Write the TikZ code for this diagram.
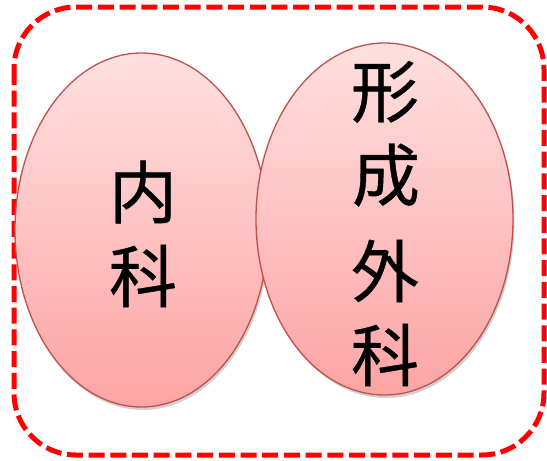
\documentclass[tikz,border=0pt]{standalone}
\usepackage{fontspec}
\newfontfamily\cjk[FakeBold=0.6]{Noto Sans CJK JP}
\usetikzlibrary{positioning,shapes.geometric,shadows}
\definecolor{lobeline}{RGB}{192,80,77}
\definecolor{lobetop}{RGB}{255,224,224}
\definecolor{lobebottom}{RGB}{253,164,164}

\begin{document}
\begin{tikzpicture}
                [x=1pt,y=-1pt,
                lobe/.style={ellipse,draw=lobeline,line width=1.3pt,inner sep=0pt,
                    top color=lobetop,bottom color=lobebottom,
                    drop shadow={shadow xshift=1.5pt,shadow yshift=-3pt,opacity=.18,fill=black}},
                kanji/.style={inner sep=0pt,font=\cjk\fontsize{68}{80}\selectfont},
                frame/.style={draw=red,line width=5pt,dash pattern=on 16pt off 5.7pt,rounded corners=62pt}]
                \useasboundingbox (0,0) rectangle (547,461);
                \draw[frame] (14,7) rectangle (544,455);
                \node[lobe,minimum width=253pt,minimum height=354pt] (naika) at (141.5,230){};
                \node[lobe,minimum width=257pt,minimum height=352pt] (geka) at (384.5,219){};
                \node[kanji] (textnai) at (143,192){内};
                \node[kanji] (textka) at (143,276){科};
                \node[kanji] (textkei) at (385,92){形};
                \node[kanji] (textsei) at (386,175){成};
                \node[kanji] (textge) at (385,271){外};
                \node[kanji] (textgeka) at (385,355){科};
            \end{tikzpicture}
\end{document}
